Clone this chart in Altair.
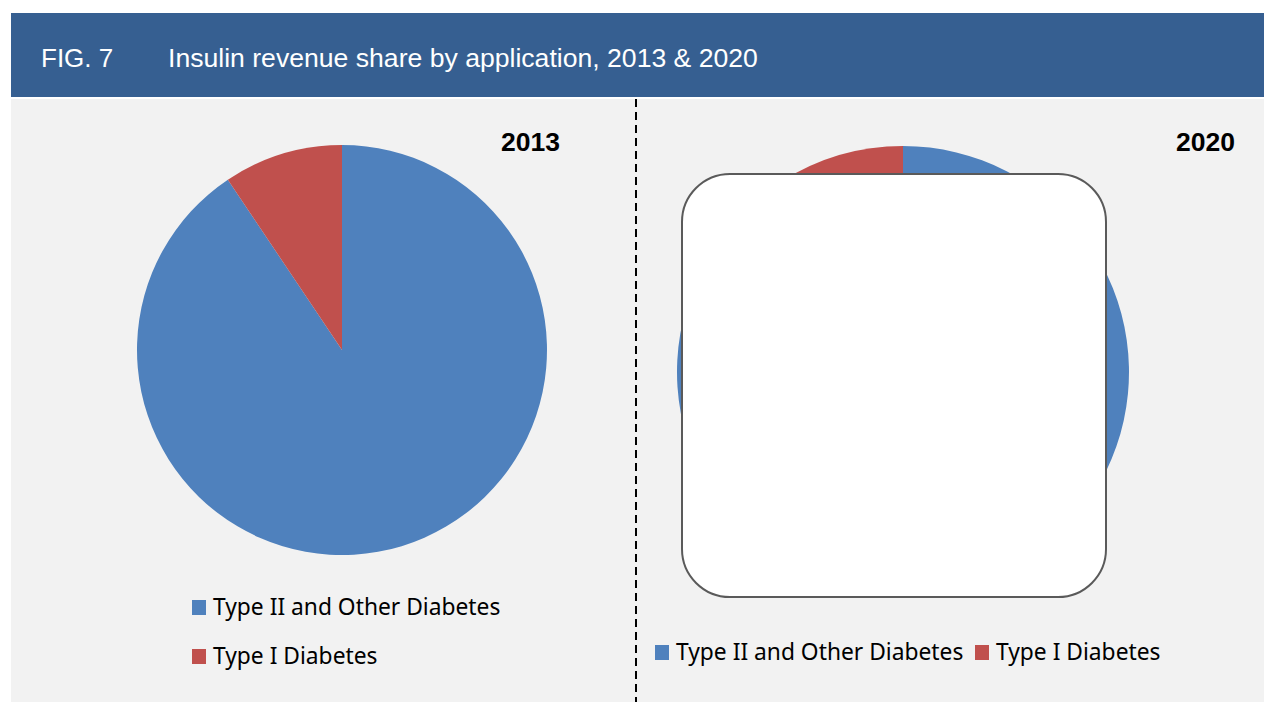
import altair as alt
import pandas as pd

# ---- data ----
categories = ["Type II and Other Diabetes", "Type I Diabetes"]
share_2013 = [90.6, 9.4]
share_2020 = [91.0, 9.0]
colors = ["#4F81BD", "#C0504D"]
years = ["2013", "2020"]
fig_label = "FIG. 7"
fig_title = "Insulin revenue share by application, 2013 & 2020"

W, H = 1264, 702
BLUE_HDR = "#365F91"
PANEL = "#F2F2F2"
LEGEND_FONT = "Noto Sans"

one = pd.DataFrame({"k": [0]})


def box(x, x2, y, y2, **mark):
    return alt.Chart(one).mark_rect(**mark).encode(
        x=alt.value(x), x2=alt.value(x2), y=alt.value(y), y2=alt.value(y2)
    )


def label(text, x, y, **mark):
    df = pd.DataFrame({"t": [text]})
    return alt.Chart(df).mark_text(align="left", baseline="alphabetic", **mark).encode(
        text="t:N", x=alt.value(x), y=alt.value(y)
    )


def pie(shares, cx, cy, r):
    df = pd.DataFrame({"cat": categories, "share": shares, "idx": list(range(len(categories)))})
    return alt.Chart(df).mark_arc(radius=r, stroke=None).encode(
        theta=alt.Theta("share:Q", stack=True),
        order=alt.Order("idx:Q"),
        color=alt.Color("cat:N", scale=alt.Scale(domain=categories, range=colors), legend=None),
        x=alt.value(cx),
        y=alt.value(cy),
    )


def legend_item(i, x, y_base, size=22.8):
    sq = box(x, x + 14, y_base - 15, y_base, fill=colors[i])
    tx = label(categories[i], x + 21, y_base, font=LEGEND_FONT, fontSize=size, color="#000000")
    return [sq, tx]


layers = []
# panel background and header
layers.append(box(11, W, 99, H, fill=PANEL))
layers.append(box(11, W, 13, 97, fill=BLUE_HDR))
layers.append(label(fig_label, 41, 67, font="Liberation Sans", fontSize=26, color="white"))
layers.append(label(fig_title, 168, 67, font="Liberation Sans", fontSize=26.6, color="white"))

# dashed separator
sep = pd.DataFrame({"k": [0]})
layers.append(
    alt.Chart(sep).mark_rule(color="#000000", strokeWidth=2, strokeDash=[8, 5]).encode(
        x=alt.value(636), y=alt.value(99), y2=alt.value(H)
    )
)

# pies
layers.append(pie(share_2013, 342, 350, 205))
layers.append(pie(share_2020, 903, 372, 226))

# white rounded overlay box on 2020 pie
layers.append(box(682, 1106, 174, 597, fill="white", stroke="#5A5A5A", strokeWidth=2, cornerRadius=48))

# year titles
layers.append(label(years[0], 501, 151, font="Liberation Sans", fontSize=26.5, fontWeight="bold", color="#000000"))
layers.append(label(years[1], 1176, 151, font="Liberation Sans", fontSize=26.5, fontWeight="bold", color="#000000"))

# legends
layers += legend_item(0, 192, 615)
layers += legend_item(1, 192, 664)
layers += legend_item(0, 655, 660)
layers += legend_item(1, 975, 660)

chart = alt.layer(*layers).properties(
    width=W, height=H, padding=0, autosize="none", background="white"
).configure_view(stroke=None)

chart.save("out.html", embed_options={"renderer": "svg", "actions": False})
